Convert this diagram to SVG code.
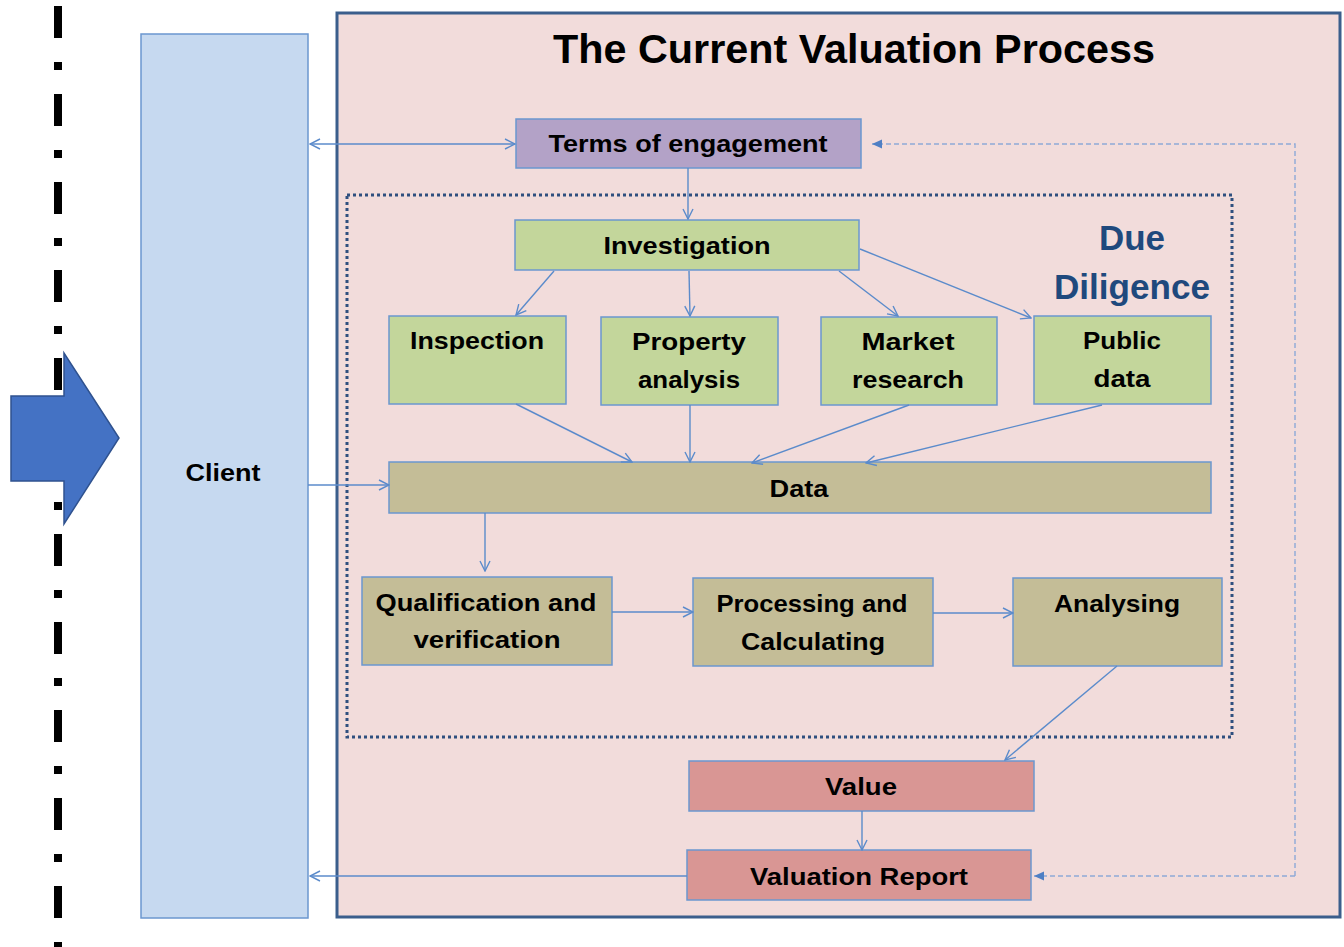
<svg xmlns="http://www.w3.org/2000/svg" width="1344" height="947" viewBox="0 0 1344 947">
<defs>
<style>
.box{stroke:#6B97CF;stroke-width:1.5}
.t{font-family:"Liberation Sans",Arial,sans-serif;font-weight:bold;font-size:24px;fill:#000;text-anchor:middle}
.title{font-size:40px}
.dd{font-size:35px;fill:#1F497D}
.c{stroke:#5B8BCB;stroke-width:1.4;fill:none}
.d{stroke:#8EA9D8;stroke-width:1.4;fill:none;stroke-dasharray:5 3}
</style>
<marker id="a" viewBox="0 0 12 12" refX="11" refY="6" markerWidth="12" markerHeight="12" markerUnits="userSpaceOnUse" orient="auto-start-reverse">
<path d="M1,1 L11,6 L1,11" fill="none" stroke="#5B8BCB" stroke-width="1.4"/>
</marker>
<marker id="f" viewBox="0 0 12 12" refX="11" refY="6" markerWidth="11" markerHeight="11" markerUnits="userSpaceOnUse" orient="auto">
<path d="M0,1 L11,6 L0,11 Z" fill="#4F7FC4"/>
</marker>
</defs>
<rect width="1344" height="947" fill="#fff"/>
<g id="divider">
<line x1="58" y1="6" x2="58" y2="947" stroke="#000" stroke-width="8" stroke-dasharray="32 24 8 24"/>
</g>
<g id="big-arrow">
<path d="M11,396 L64,396 L64,353 L119,438 L64,524 L64,481 L11,481 Z" fill="#4472C4" stroke="#2F528F" stroke-width="1.5"/>
</g>
<g id="client">
<rect x="141" y="34" width="167" height="884" fill="#C6D9F0" class="box"/>
<text class="t" x="223" y="481" textLength="75" lengthAdjust="spacingAndGlyphs">Client</text>
</g>
<g id="process-frame">
<rect x="337" y="13" width="1003" height="904" fill="#F2DCDB" stroke="#3B5E8C" stroke-width="3"/>
<text class="t title" x="854" y="63" textLength="602" lengthAdjust="spacingAndGlyphs">The Current Valuation Process</text>
</g>
<g id="due-diligence">
<rect x="347" y="195" width="885" height="542" fill="none" stroke="#2F4F7F" stroke-width="3" stroke-dasharray="3 3"/>
<text class="t dd" x="1132" y="250" textLength="66" lengthAdjust="spacingAndGlyphs">Due</text>
<text class="t dd" x="1132" y="299" textLength="156" lengthAdjust="spacingAndGlyphs">Diligence</text>
</g>
<g id="terms">
<rect x="516" y="119" width="345" height="49" fill="#B3A2C7" class="box"/>
<text class="t" x="688" y="152" textLength="279" lengthAdjust="spacingAndGlyphs">Terms of engagement</text>
</g>
<g id="investigation">
<rect x="515" y="220" width="344" height="50" fill="#C3D69B" class="box"/>
<text class="t" x="687" y="254" textLength="167" lengthAdjust="spacingAndGlyphs">Investigation</text>
</g>
<g id="inspection">
<rect x="389" y="316" width="177" height="88" fill="#C3D69B" class="box"/>
<text class="t" x="477" y="349" textLength="134" lengthAdjust="spacingAndGlyphs">Inspection</text>
</g>
<g id="property-analysis">
<rect x="601" y="317" width="177" height="88" fill="#C3D69B" class="box"/>
<text class="t" x="689" y="350" textLength="114" lengthAdjust="spacingAndGlyphs">Property</text>
<text class="t" x="689" y="388" textLength="102" lengthAdjust="spacingAndGlyphs">analysis</text>
</g>
<g id="market-research">
<rect x="821" y="317" width="176" height="88" fill="#C3D69B" class="box"/>
<text class="t" x="908" y="350" textLength="93" lengthAdjust="spacingAndGlyphs">Market</text>
<text class="t" x="908" y="388" textLength="112" lengthAdjust="spacingAndGlyphs">research</text>
</g>
<g id="public-data">
<rect x="1034" y="316" width="177" height="88" fill="#C3D69B" class="box"/>
<text class="t" x="1122" y="349" textLength="78" lengthAdjust="spacingAndGlyphs">Public</text>
<text class="t" x="1122" y="387" textLength="57" lengthAdjust="spacingAndGlyphs">data</text>
</g>
<g id="data">
<rect x="389" y="462" width="822" height="51" fill="#C4BD97" class="box"/>
<text class="t" x="799" y="497" textLength="59" lengthAdjust="spacingAndGlyphs">Data</text>
</g>
<g id="qualification">
<rect x="362" y="577" width="250" height="88" fill="#C4BD97" class="box"/>
<text class="t" x="486" y="611" textLength="221" lengthAdjust="spacingAndGlyphs">Qualification and</text>
<text class="t" x="487" y="648" textLength="147" lengthAdjust="spacingAndGlyphs">verification</text>
</g>
<g id="processing">
<rect x="693" y="578" width="240" height="88" fill="#C4BD97" class="box"/>
<text class="t" x="812" y="612" textLength="191" lengthAdjust="spacingAndGlyphs">Processing and</text>
<text class="t" x="813" y="650" textLength="144" lengthAdjust="spacingAndGlyphs">Calculating</text>
</g>
<g id="analysing">
<rect x="1013" y="578" width="209" height="88" fill="#C4BD97" class="box"/>
<text class="t" x="1117" y="612" textLength="126" lengthAdjust="spacingAndGlyphs">Analysing</text>
</g>
<g id="value">
<rect x="689" y="761" width="345" height="50" fill="#D99694" class="box"/>
<text class="t" x="861" y="795" textLength="72" lengthAdjust="spacingAndGlyphs">Value</text>
</g>
<g id="valuation-report">
<rect x="687" y="850" width="344" height="50" fill="#D99694" class="box"/>
<text class="t" x="859" y="885" textLength="218" lengthAdjust="spacingAndGlyphs">Valuation Report</text>
</g>
<g id="connectors">
<line class="c" x1="310" y1="144" x2="515" y2="144" marker-start="url(#a)" marker-end="url(#a)"/>
<line class="c" x1="688" y1="168" x2="688" y2="219" marker-end="url(#a)"/>
<line class="c" x1="554" y1="271" x2="516" y2="315" marker-end="url(#a)"/>
<line class="c" x1="689" y1="271" x2="690" y2="316" marker-end="url(#a)"/>
<line class="c" x1="839" y1="271" x2="898" y2="316" marker-end="url(#a)"/>
<line class="c" x1="860" y1="249" x2="1031" y2="318" marker-end="url(#a)"/>
<line class="c" x1="516" y1="404" x2="632" y2="462" marker-end="url(#a)"/>
<line class="c" x1="690" y1="405" x2="690" y2="462" marker-end="url(#a)"/>
<line class="c" x1="909" y1="405" x2="752" y2="463" marker-end="url(#a)"/>
<line class="c" x1="1102" y1="405" x2="866" y2="463" marker-end="url(#a)"/>
<line class="c" x1="308" y1="485" x2="389" y2="485" marker-end="url(#a)"/>
<line class="c" x1="485" y1="513" x2="485" y2="571" marker-end="url(#a)"/>
<line class="c" x1="612" y1="612" x2="693" y2="612" marker-end="url(#a)"/>
<line class="c" x1="933" y1="613" x2="1013" y2="613" marker-end="url(#a)"/>
<line class="c" x1="1117" y1="666" x2="1005" y2="760" marker-end="url(#a)"/>
<line class="c" x1="862" y1="811" x2="862" y2="850" marker-end="url(#a)"/>
<line class="c" x1="687" y1="876" x2="310" y2="876" marker-end="url(#a)"/>
<path class="d" d="M1295,876 L1295,144 L872,144" marker-end="url(#f)"/>
<line class="d" x1="1295" y1="876" x2="1034" y2="876" marker-end="url(#f)"/>
</g>
</svg>
